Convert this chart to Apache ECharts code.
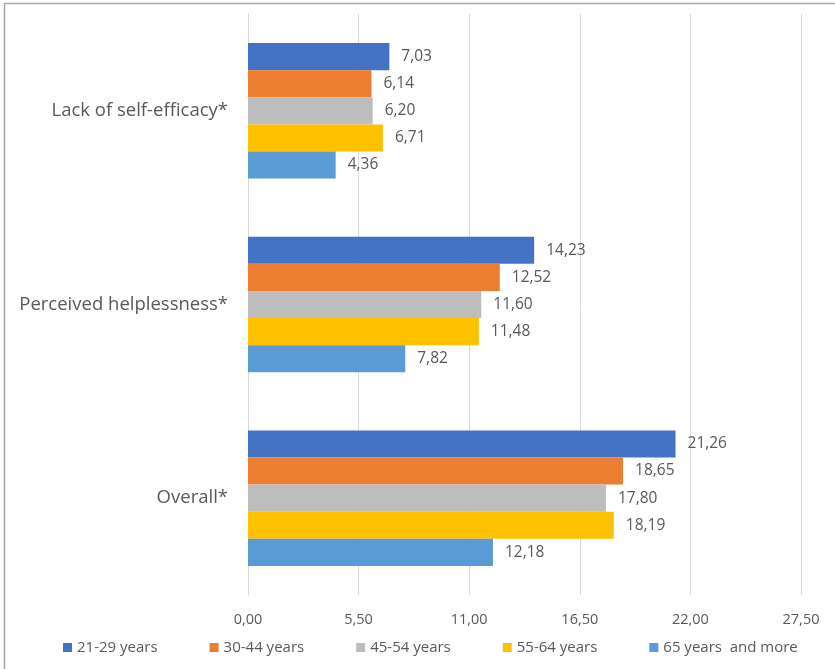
<!DOCTYPE html>
<html>
<head>
<meta charset="utf-8">
<script src="https://cdn.jsdelivr.net/npm/echarts@6/dist/echarts.min.js"></script>
<style>
  html, body { margin: 0; padding: 0; background: #fff; }
  #chart { width: 835px; height: 669px; }
</style>
</head>
<body>
<div id="chart"></div>
<script>
// Scale categories, listed top to bottom
const categories = ['Lack of self-efficacy*', 'Perceived helplessness*', 'Overall*'];

// Age groups (legend order)
const groupNames = ['21-29 years', '30-44 years', '45-54 years', '55-64 years', '65 years  and more'];
const groupColors = ['#4472C4', '#ED7D31', '#BDBDBD', '#FFC000', '#5B9BD5'];

// Mean scores per age group, in category order
const age21_29 = [7.03, 14.23, 21.26];
const age30_44 = [6.14, 12.52, 18.65];
const age45_54 = [6.20, 11.60, 17.80];
const age55_64 = [6.71, 11.48, 18.19];
const age65plus = [4.36, 7.82, 12.18];

const seriesValues = [age21_29, age30_44, age45_54, age55_64, age65plus];

const fmt = v => v.toFixed(2).replace('.', ',');
const fontFamily = '"Open Sans", sans-serif';
const textColor = '#595959';

const chart = echarts.init(document.getElementById('chart'), null, { renderer: 'canvas' });

chart.setOption({
  animation: false,
  textStyle: { fontFamily },
  grid: { left: 248, right: 34, top: 14, bottom: 74, containLabel: false },
  legend: {
    data: groupNames,
    bottom: 9,
    left: 58,
    itemWidth: 9,
    itemHeight: 9,
    itemGap: 52,
    icon: 'rect',
    textStyle: { fontSize: 15, color: textColor, fontFamily }
  },
  xAxis: {
    type: 'value',
    min: 0,
    max: 27.5,
    interval: 5.5,
    axisLine: { show: false },
    axisTick: { show: false },
    splitLine: { lineStyle: { color: '#D9D9D9', width: 1 } },
    axisLabel: { formatter: fmt, fontSize: 14.5, color: textColor, margin: 17, fontFamily }
  },
  yAxis: {
    type: 'category',
    data: categories,
    inverse: true,
    axisLine: { lineStyle: { color: '#D9D9D9' } },
    axisTick: { show: false },
    axisLabel: { fontSize: 18.5, color: textColor, margin: 20, fontFamily }
  },
  graphic: [{
    type: 'rect',
    shape: { x: 4.5, y: 3.5, width: 900, height: 700 },
    style: { fill: null, stroke: '#A6A6A6', lineWidth: 1.5 },
    silent: true
  }],
  series: seriesValues.map((vals, i) => ({
    name: groupNames[i],
    type: 'bar',
    data: vals,
    barGap: '0%',
    barCategoryGap: '30%',
    itemStyle: { color: groupColors[i] },
    label: {
      show: true,
      position: 'right',
      distance: 12,
      formatter: p => fmt(p.value),
      fontSize: 15.5,
      color: textColor,
      fontFamily
    }
  }))
});
</script>
</body>
</html>
